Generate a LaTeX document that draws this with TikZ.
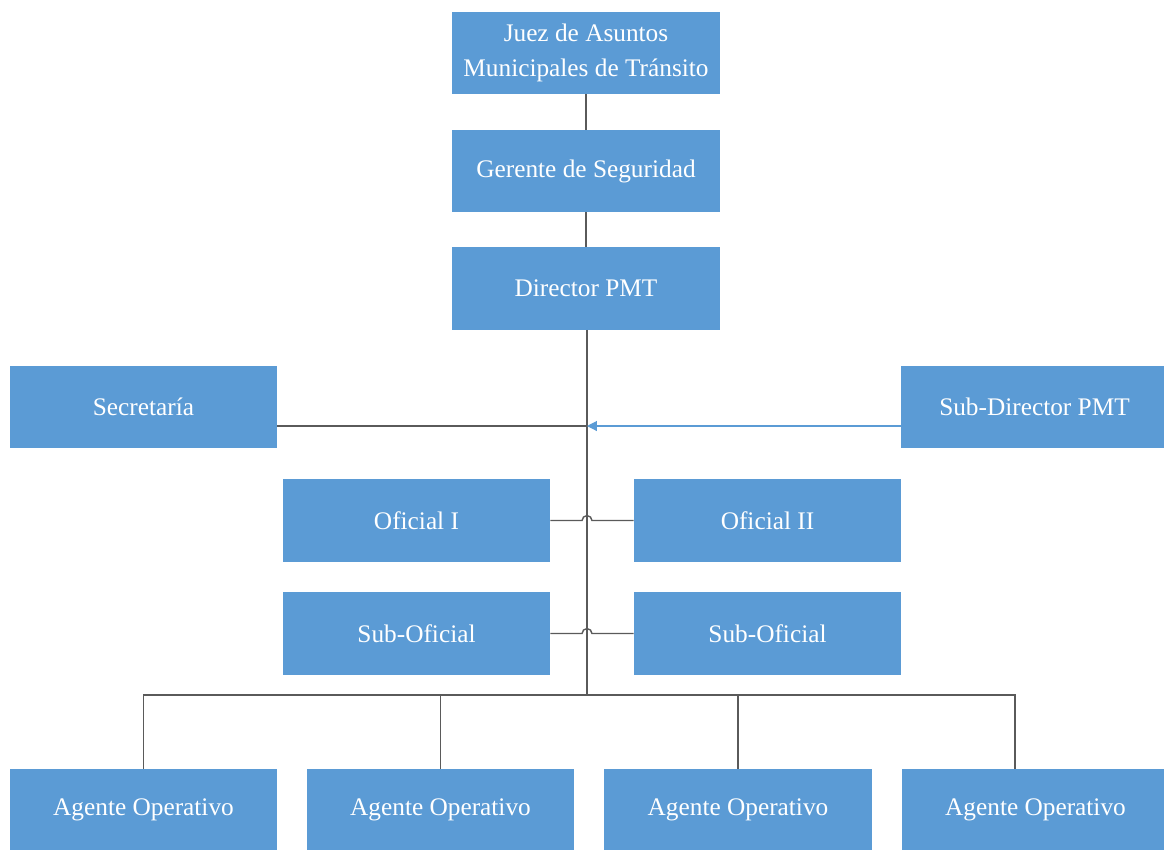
\documentclass[tikz,border=0pt]{standalone}
\usepackage{fontspec}
\setmainfont{Liberation Serif}
\usetikzlibrary{arrows.meta}
\begin{document}
\begin{tikzpicture}[x=0.025cm, y=-0.025cm, font=\fontsize{18}{24.5}\selectfont,
		cargo/.style={fill=azuloficina, text=white, minimum width=6.675cm, minimum height=2.05cm, inner sep=2pt, align=center},
		enlace/.style={draw=grislinea, line width=1pt}]
			\definecolor{azuloficina}{RGB}{91,155,213}
			\definecolor{grislinea}{RGB}{90,90,90}
			\useasboundingbox (0,0) rectangle (1164,849);
			\node[cargo] (juez) at (586,53) {Juez de Asuntos\\Municipales de Tránsito};
			\node[cargo] (gerente) at (586,171) {Gerente de Seguridad};
			\node[cargo] (director) at (586,288.5) {Director PMT};
			\node[cargo] (secretaria) at (143.5,407) {Secretaría};
			\node[cargo] (subdirector) at (1034.5,407) {Sub-Director PMT};
			\node[cargo] (oficialI) at (416.5,520.5) {Oficial I};
			\node[cargo] (oficialII) at (767.5,520.5) {Oficial II};
			\node[cargo] (subofI) at (416.5,633.5) {Sub-Oficial};
			\node[cargo] (subofII) at (767.5,633.5) {Sub-Oficial};
			\foreach \x [count=\i] in {143.5,440.5,738,1035.5}
				\node[cargo] (agente\i) at (\x,810) {Agente Operativo};
			\coordinate (union) at (587,426);
			\coordinate (reparto) at (587,695);
			\coordinate (bajada) at (1015,695);
			\draw[enlace] (juez) -- (gerente);
			\draw[enlace] (gerente) -- (director);
			\draw[enlace] (director.south -| union) -- (reparto);
			\draw[enlace] (secretaria.east |- union) -- (union);
			\draw[azuloficina, line width=0.8pt, -{Triangle[length=7pt, width=7pt]}] (subdirector.west |- union) -- (union);
			% saltos sobre la linea central
			\draw[enlace] (oficialI) -- ([xshift=-3.5pt]oficialI -| union) arc[start angle=180, end angle=0, radius=3.5pt] -- (oficialII);
			\draw[enlace] (subofI) -- ([xshift=-3.5pt]subofI -| union) arc[start angle=180, end angle=0, radius=3.5pt] -- (subofII);
			\draw[enlace] (agente1.north) |- (bajada) -- (bajada |- agente4.north);
			\foreach \i in {2,3}
				\draw[enlace] (reparto -| agente\i.north) -- (agente\i.north);
		\end{tikzpicture}
\end{document}
